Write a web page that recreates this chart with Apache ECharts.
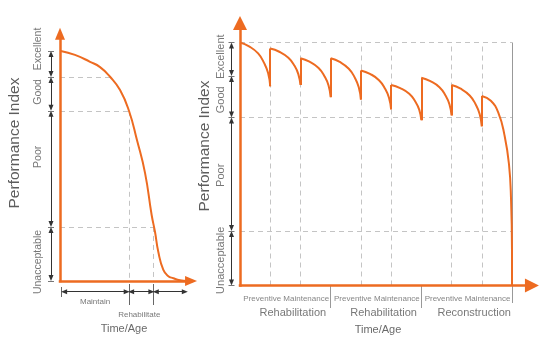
<!DOCTYPE html>
<html>
<head>
<meta charset="utf-8">
<title>Performance Index over Time/Age</title>
<script src="https://cdn.jsdelivr.net/npm/echarts@6/dist/echarts.min.js"></script>
<style>
html, body { margin: 0; padding: 0; background: #fff; }
#main { width: 550px; height: 350px; }
</style>
</head>
<body>
<div id="main"></div>
<script>
// condition levels, bottom to top
var levelNames = ['Unacceptable', 'Poor', 'Good', 'Excellent'];
// level boundaries on the index (0 = time axis, 100 = new pavement)
var leftBounds = [0, 23.5, 74, 88.7, 100];
var rightBounds = [0, 22.4, 69.1, 86.2, 100];

// left chart: do-nothing deterioration [time, index]
var leftCurve = [
    [0.6, 100], [11.5, 98.3], [23.1, 95.3], [30.8, 93], [38.5, 88.8], [46.2, 83],
    [53.1, 73.9], [59.2, 61.3], [65.4, 47], [70.5, 28.7], [73.1, 21.3], [75.6, 12.7],
    [79.5, 4.8], [83.1, 2.2], [87.2, 1.2], [92.3, 0.3], [97.7, 0]
];
// time where the curve reaches the Good, Poor and Unacceptable lines
var leftCross = [38.5, 53, 72];
// treatment windows on the time axis
var leftPhaseEdges = [1, 53, 72, 96];
var leftPhaseNames = ['Maintain', 'Rehabilitate'];

// right chart: managed pavement, years 0-9 [year, index]
var rightCurve = [
    [0, 100], [0.3, 98.4], [0.6, 95.5], [0.8, 91.5], [0.93, 87.4], [1, 82],
    [1, 97.5], [1.3, 96.2], [1.6, 93.7], [1.8, 90.5], [1.93, 87], [2, 82.5],
    [2, 93.5], [2.3, 92.1], [2.6, 89.5], [2.8, 86], [2.93, 82.3], [3, 77.5],
    [3, 93.5], [3.3, 92], [3.6, 89.2], [3.8, 85.5], [3.93, 81.6], [4, 76.5],
    [4, 88.5], [4.3, 87.1], [4.6, 84.5], [4.8, 81], [4.93, 77.3], [5, 72.5],
    [5, 82.5], [5.3, 81.2], [5.6, 78.9], [5.8, 75.7], [5.93, 72.4], [6, 68],
    [6, 85.5], [6.3, 84.1], [6.6, 81.6], [6.8, 78.2], [6.93, 74.6], [7, 70],
    [7, 82.5], [7.3, 81], [7.6, 78.2], [7.8, 74.5], [7.93, 70.6], [8, 65.5],
    [8, 78], [8.3, 76], [8.55, 71], [8.75, 62], [8.9, 50], [8.97, 35], [9, 15], [9, 0]
];
var pmYears = [1, 2, 4, 5, 7, 8];
var blockEdges = [0, 3, 6, 9];
var blockNames = ['Rehabilitation', 'Rehabilitation', 'Reconstruction'];

// ---- layout (pixels) ----
var ORANGE = '#ED6B21';
var DARK = '#333';
var GUIDE = '#c4c4c4';
var FONT = 'Liberation Sans';
var L = {x0: 60, y0: 281, sx: 1.3, sy: 2.3, xMin: -40, xMax: 110, yMin: -25, yMax: 110,
    axisEnd: [100.8, 107.5], arrow: [10, 12], dimX: -9, labX: -22, titleX: -45, titleY: 143,
    labNudge: [-8, 12, 2, 15], labSize: 10.5};
var R = {x0: 240, y0: 285.5, sx: 30.22, sy: 2.43, xMin: -1.3, xMax: 10, yMin: -22, yMax: 112,
    axisEnd: [9.66, 108], arrow: [14, 14], dimX: -8.5, labX: -19, titleX: -35, titleY: 146,
    labNudge: [-2, -1, -3, 2.5], labSize: 11};

function gridOf(g) {
    return {left: g.x0 + g.xMin * g.sx, top: g.y0 - g.yMax * g.sy,
        width: (g.xMax - g.xMin) * g.sx, height: (g.yMax - g.yMin) * g.sy};
}
function seg(a, b) { return [{coord: a}, {coord: b}]; }
function lines(gi, data, style, symbol, size) {
    return {
        type: 'line', xAxisIndex: gi, yAxisIndex: gi, data: [], silent: true,
        markLine: {
            silent: true, animation: false, symbol: symbol || 'none', symbolSize: size || 0,
            label: {show: false}, emphasis: {disabled: true}, lineStyle: style, data: data
        }
    };
}
function text(gi, items) {
    return {
        type: 'scatter', xAxisIndex: gi, yAxisIndex: gi, symbolSize: 0, silent: true, clip: false,
        label: {show: true, position: 'inside', formatter: '{b}', fontFamily: FONT, color: '#555'},
        data: items
    };
}
function curve(gi, data) {
    return {type: 'line', xAxisIndex: gi, yAxisIndex: gi, data: data, smooth: 0.5,
        showSymbol: false, silent: true, lineStyle: {color: ORANGE, width: 2}, z: 5};
}

// y-side level arrows, bars and labels for one chart
function levelParts(g, gi, bounds) {
    var dx = g.dimX / g.sx, half = 3 / g.sx, gap = 3 / g.sy;
    var dims = [], bars = [], labels = [];
    bounds.forEach(function (b) { bars.push(seg([dx - half, b], [dx + half, b])); });
    for (var i = 0; i < levelNames.length; i++) {
        dims.push(seg([dx, bounds[i] + gap], [dx, bounds[i + 1] - gap]));
        labels.push({name: levelNames[i],
            value: [g.labX / g.sx, (bounds[i] + bounds[i + 1]) / 2 + g.labNudge[i] / g.sy],
            label: {rotate: 90, fontSize: g.labSize, color: '#555'}});
    }
    labels.push({name: 'Performance Index',
        value: [g.titleX / g.sx, (g.y0 - g.titleY) / g.sy],
        label: {rotate: 90, fontSize: 15.5, color: '#333'}});
    return [
        lines(gi, dims, {color: DARK, width: 1, type: 'solid'}, ['triangle', 'triangle'], [5, 6]),
        lines(gi, bars, {color: '#777', width: 1, type: 'solid'}),
        text(gi, labels)
    ];
}
function axesOf(g, gi) {
    return lines(gi, [seg([0, 0], [0, g.axisEnd[1]]), seg([0, 0], [g.axisEnd[0], 0])],
        {color: ORANGE, width: 2.5, type: 'solid', cap: 'square'}, ['none', 'triangle'], g.arrow);
}

// ---- left chart pieces ----
var lGuides = [seg([0, leftBounds[3]], [leftCross[0], leftBounds[3]])];
[[leftCross[1], leftBounds[2]], [leftCross[2], leftBounds[1]]].forEach(function (p) {
    lGuides.push(seg([0, p[1]], p));
    lGuides.push(seg(p, [p[0], 0]));
});
var lDimY = -10.7 / L.sy, lGapX = 2.8 / L.sx;
var lDims = [], lTicks = [seg([leftPhaseEdges[0], -6 / L.sy], [leftPhaseEdges[0], -16 / L.sy])];
for (var i = 0; i < leftPhaseEdges.length - 1; i++) {
    var a = leftPhaseEdges[i] + (i === 0 ? lGapX : lGapX * 0.8);
    var b = leftPhaseEdges[i + 1] - (i === leftPhaseEdges.length - 2 ? 0 : lGapX * 0.8);
    lDims.push(seg([a, lDimY], [b, lDimY]));
}
[leftPhaseEdges[1], leftPhaseEdges[2]].forEach(function (x) {
    lTicks.push(seg([x, -3 / L.sy], [x, -24 / L.sy]));
});
var lText = [
    {name: leftPhaseNames[0], value: [(leftPhaseEdges[0] + leftPhaseEdges[1]) / 2, -20.7 / L.sy],
        label: {fontSize: 8, color: '#555'}},
    {name: leftPhaseNames[1], value: [(leftPhaseEdges[1] + leftPhaseEdges[2]) / 2 - 1.5, -33.3 / L.sy],
        label: {fontSize: 8, color: '#555'}},
    {name: 'Time/Age', value: [(124 - L.x0) / L.sx, -48 / L.sy], label: {fontSize: 11, color: '#444'}}
];

// ---- right chart pieces ----
var rGuides = [];
[rightBounds[4], rightBounds[2], rightBounds[1]].forEach(function (y) {
    rGuides.push(seg([0, y], [blockEdges[3], y]));
});
pmYears.forEach(function (x) { rGuides.push(seg([x, 0], [x, rightBounds[4]])); });
var rSolid = [seg([blockEdges[3], rightBounds[4]], [blockEdges[3], -17.5 / R.sy]),
    seg([blockEdges[1], 0], [blockEdges[1], -22.5 / R.sy]),
    seg([blockEdges[2], 0], [blockEdges[2], -22.5 / R.sy])];
var rText = [];
for (var k = 0; k < blockNames.length; k++) {
    var mid = (blockEdges[k] + blockEdges[k + 1]) / 2;
    rText.push({name: 'Preventive Maintenance', value: [mid + 0.03, -12.8 / R.sy],
        label: {fontSize: 8, color: '#666'}});
    rText.push({name: blockNames[k], value: [mid + 0.25, -27.8 / R.sy],
        label: {fontSize: 11, color: '#555'}});
}
rText.push({name: 'Time/Age', value: [(378 - R.x0) / R.sx, -44.5 / R.sy],
    label: {fontSize: 11, color: '#444'}});

// the managed curve is drawn as smooth runs joined by straight vertical jumps
var runs = [[rightCurve[0]]], jumps = [];
for (var j = 1; j < rightCurve.length; j++) {
    if (rightCurve[j][0] === rightCurve[j - 1][0]) {
        jumps.push(seg(rightCurve[j - 1], rightCurve[j]));
        runs.push([]);
    }
    runs[runs.length - 1].push(rightCurve[j]);
}

var dashed = {color: GUIDE, width: 1, type: [5, 4]};
var series = [
    lines(0, lGuides, dashed),
    lines(0, lTicks, {color: '#666', width: 1, type: 'solid'}),
    lines(0, lDims, {color: DARK, width: 1, type: 'solid'}, ['triangle', 'triangle'], [5, 6]),
    text(0, lText),
    axesOf(L, 0),
    curve(0, leftCurve),

    lines(1, rGuides, dashed),
    lines(1, rSolid, {color: '#999', width: 1, type: 'solid'}),
    text(1, rText),
    axesOf(R, 1),
    lines(1, jumps, {color: ORANGE, width: 2, type: 'solid'})
].concat(runs.filter(function (r) { return r.length > 1; }).map(function (r) { return curve(1, r); }),
    levelParts(L, 0, leftBounds), levelParts(R, 1, rightBounds));

var chart = echarts.init(document.getElementById('main'));
chart.setOption({
    animation: false,
    backgroundColor: '#fff',
    textStyle: {fontFamily: FONT},
    grid: [gridOf(L), gridOf(R)],
    xAxis: [
        {type: 'value', gridIndex: 0, min: L.xMin, max: L.xMax, show: false},
        {type: 'value', gridIndex: 1, min: R.xMin, max: R.xMax, show: false}
    ],
    yAxis: [
        {type: 'value', gridIndex: 0, min: L.yMin, max: L.yMax, show: false},
        {type: 'value', gridIndex: 1, min: R.yMin, max: R.yMax, show: false}
    ],
    series: series
});
</script>
</body>
</html>
